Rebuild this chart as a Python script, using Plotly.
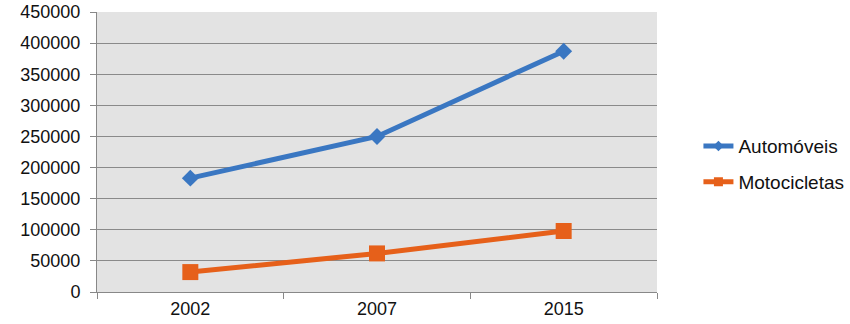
import plotly.graph_objects as go

years = ["2002", "2007", "2015"]
automoveis = [183000, 250000, 387000]
motocicletas = [32000, 62000, 98000]
y_ticks = [0, 50000, 100000, 150000, 200000, 250000, 300000, 350000, 400000, 450000]

blue = "#3a77c2"
orange = "#e6601a"
font = dict(family="Liberation Sans, Arial", size=18, color="#111111")
legend_font = dict(family="Liberation Sans, Arial", size=19, color="#111111")

fig = go.Figure()
fig.add_trace(go.Scatter(x=years, y=automoveis, name="Automóveis", mode="lines+markers",
                         line=dict(color=blue, width=5),
                         marker=dict(symbol="diamond", size=13, color=blue),
                         showlegend=False))
fig.add_trace(go.Scatter(x=years, y=motocicletas, name="Motocicletas", mode="lines+markers",
                         line=dict(color=orange, width=5),
                         marker=dict(symbol="square", size=16, color=orange),
                         showlegend=False))
# legend-only entries (smaller markers, as in the reference legend)
fig.add_trace(go.Scatter(x=[None], y=[None], name="Automóveis", mode="lines+markers",
                         line=dict(color=blue, width=5),
                         marker=dict(symbol="diamond", size=8, color=blue),
                         showlegend=True, legend="legend"))
fig.add_trace(go.Scatter(x=[None], y=[None], name="Motocicletas", mode="lines+markers",
                         line=dict(color=orange, width=5),
                         marker=dict(symbol="square", size=9, color=orange),
                         showlegend=True, legend="legend2"))

fig.update_layout(
    width=850, height=324,
    margin=dict(l=97, r=193, t=12, b=32, autoexpand=False),
    paper_bgcolor="white", plot_bgcolor="#e3e3e3",
    font=font, showlegend=True,
    legend=dict(x=1.074, y=0.521, xanchor="left", yanchor="middle", font=legend_font,
                bgcolor="rgba(0,0,0,0)"),
    legend2=dict(x=1.074, y=0.393, xanchor="left", yanchor="middle", font=legend_font,
                 bgcolor="rgba(0,0,0,0)"),
)
fig.update_xaxes(type="category", range=[-0.5, 2.5], tickson="boundaries",
                 ticks="outside", ticklen=6, tickcolor="#888888",
                 showline=True, linecolor="#888888", linewidth=1,
                 showgrid=False, tickfont=font, automargin=False)
fig.update_yaxes(range=[0, 450000], tickvals=y_ticks, ticktext=[str(v) for v in y_ticks],
                 ticks="outside", ticklen=6, tickcolor="#888888",
                 showline=True, linecolor="#888888", linewidth=1,
                 showgrid=True, gridcolor="#8a8a8a", gridwidth=1,
                 zeroline=False, tickfont=font, automargin=False,
                 ticklabelstandoff=6)

fig.write_html("out.html", config={"displayModeBar": False},
               post_script="document.body.style.margin='0';")
